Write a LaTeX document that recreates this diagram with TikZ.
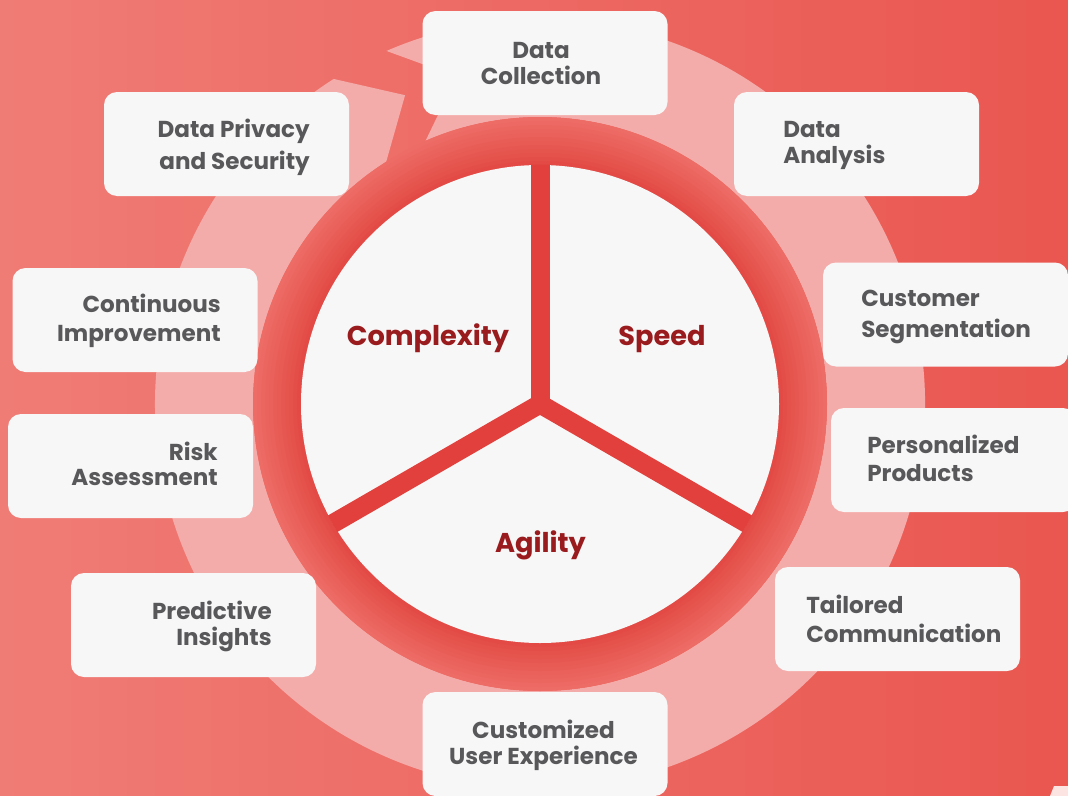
\documentclass[tikz,border=0pt]{standalone}
\usepackage{fontspec}
\setmainfont{Poppins}
\definecolor{bgL}{RGB}{240,124,118}
\definecolor{bgR}{RGB}{234,86,80}
\definecolor{pinkring}{RGB}{244,172,170}
\definecolor{ringin}{RGB}{226,70,65}
\definecolor{ringout}{RGB}{238,108,102}
\definecolor{spokecol}{RGB}{225,64,60}
\definecolor{cardfill}{RGB}{247,247,247}
\definecolor{txtgray}{RGB}{88,88,91}
\definecolor{txtred}{RGB}{154,27,30}
\definecolor{cornerpink}{RGB}{251,228,226}
\newcommand{\mylines}[3]{\fontsize{17.3}{#2}\selectfont\begin{tabular}[t]{@{}#1@{}}#3\end{tabular}}
\begin{document}
\begin{tikzpicture}[x=0.75pt,y=-0.75pt,
  cardbox/.style={fill=cardfill, rounded corners=9.75pt, minimum width=183.75pt, minimum height=78pt, inner sep=0pt},
  lbl/.style={text=txtgray, font=\bfseries, inner sep=0pt},
  ctrlbl/.style={text=txtred, font=\fontsize{20.4}{24}\selectfont\bfseries, inner sep=0pt, anchor=base}]
\useasboundingbox (0,0) rectangle (1068,796);
\clip (0,0) rectangle (1068,796);
\shade[left color=bgL, right color=bgR] (0,0) rectangle (1068,796);
\coordinate (o) at (540,404);
% circular chevron arrow
\begin{scope}[shift={(540,404)}]
\fill[pinkring] (246.5:385) arc[start angle=246.5, end angle=597.6, radius=385]
  -- (606.4:337) -- (597.6:287) arc[start angle=597.6, end angle=246.5, radius=287]
  -- (255.7:338) -- cycle;
\end{scope}
% central wheel: ring with stepped gradient
\foreach \i in {0,...,12}{
  \pgfmathsetmacro{\rr}{287-4*\i}
  \pgfmathsetmacro{\pp}{100-\i*8}
  \fill[ringout!\pp!ringin] (o) circle[radius=\rr];
}
\fill[cardfill] (o) circle[radius=239];
\begin{scope}
\clip (o) circle[radius=239.5];
\begin{scope}[shift={(540,404)}]
\draw[spokecol, line width=14.25pt] (0,0) -- (270:260);
\draw[spokecol, line width=14.25pt] (0,0) -- (150:260);
\draw[spokecol, line width=14.25pt] (0,0) -- (30:260);
\end{scope}
\end{scope}
\node[ctrlbl] (cx) at (428,345) {Complexity};
\node[ctrlbl] (sp) at (662,345) {Speed};
\node[ctrlbl] (ag) at (540.5,552) {Agility};
% cards
\node[cardbox] (dc) at (545,63) {};
\node[cardbox] (da) at (856.5,144) {};
\node[cardbox] (dp) at (226.5,144) {};
\node[cardbox] (cs) at (945.5,314.5) {};
\node[cardbox] (ci) at (135,320) {};
\node[cardbox] (pp) at (953.5,460) {};
\node[cardbox] (ra) at (130.5,466) {};
\node[cardbox] (tc) at (897.5,619) {};
\node[cardbox] (pi) at (193.5,625) {};
\node[cardbox] (cu) at (545,744) {};
% labels
\node[lbl, anchor=base] (tdc) at (541,58) {\mylines{c}{20.25pt}{Data\\Collection}};
\node[lbl, anchor=base west] (tda) at (783,137) {\mylines{l}{19.5pt}{Data\\Analysis}};
\node[lbl, anchor=base east] (tdp) at (310,137) {\mylines{r}{24pt}{Data Privacy\\and Security}};
\node[lbl, anchor=base west] (tcs) at (861,306) {\mylines{l}{23.25pt}{Customer\\Segmentation}};
\node[lbl, anchor=base east] (tci) at (221,312) {\mylines{r}{21.75pt}{Continuous\\Improvement}};
\node[lbl, anchor=base west] (tpp) at (867,453) {\mylines{l}{21pt}{Personalized\\Products}};
\node[lbl, anchor=base east] (tra) at (218,460) {\mylines{r}{18.75pt}{Risk\\Assessment}};
\node[lbl, anchor=base west] (ttc) at (806,613) {\mylines{l}{21.75pt}{Tailored\\Communication}};
\node[lbl, anchor=base east] (tpi) at (272,619) {\mylines{r}{19.5pt}{Predictive\\Insights}};
\node[lbl, anchor=base] (tcu) at (543.5,738) {\mylines{c}{19.5pt}{Customized\\User Experience}};
% corner fragment
\fill[cornerpink] (1054,786) -- (1068,786) -- (1068,796) -- (1050,796) -- cycle;
\end{tikzpicture}
\end{document}
